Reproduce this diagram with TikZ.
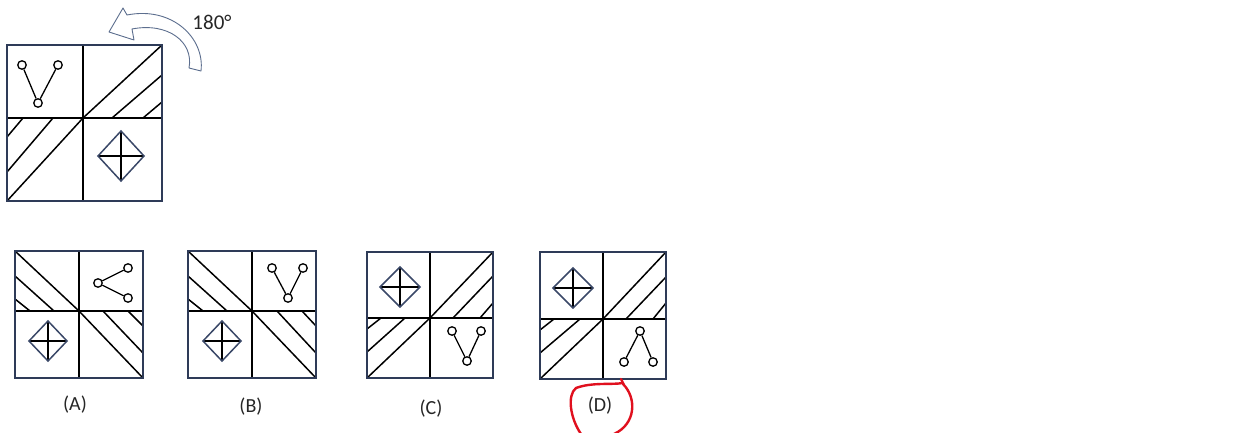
\documentclass[tikz,border=0pt]{standalone}
\usepackage{fontspec}
\setmainfont{Carlito}
\definecolor{framec}{HTML}{2E3B58}
\definecolor{diamc}{HTML}{3A4868}
\definecolor{arrc}{HTML}{5C6E8E}
\definecolor{redc}{HTML}{E0101E}
\tikzset{
  frame/.style={draw=framec, line width=1.5pt},
  div/.style={draw=black, line width=1.5pt},
  hatch/.style={draw=black, line width=1.5pt},
  dot/.style={circle, draw=black, line width=1.3pt, inner sep=0pt, minimum size=8.5pt, fill=white},
  link/.style={draw=black, line width=1.3pt},
  diam/.style={draw=diamc, line width=1.5pt, line join=miter},
  cross/.style={draw=black, line width=1.3pt},
  lab/.style={font=\fontsize{20}{22}\selectfont, text=black!85, inner sep=0pt}
}
\newcommand{\mydiamond}[4]{% cx cy hw hh
  \draw[cross] (#1-#3,#2) -- (#1+#3,#2);
  \draw[cross] (#1,#2-#4) -- (#1,#2+#4);
  \draw[diam] (#1-#3,#2) -- (#1,#2-#4) -- (#1+#3,#2) -- (#1,#2+#4) -- cycle;
}
\begin{document}
\begin{tikzpicture}[x=1pt,y=-1pt]
\useasboundingbox (0,0) rectangle (1245,433);

% ---------- main figure ----------
\draw[hatch] (83,118) -- (162,45);
\draw[hatch] (112,118) -- (162,75);
\draw[hatch] (143,118) -- (162,102);
\draw[hatch] (7,201) -- (83,118);
\draw[hatch] (7,172) -- (53,118);
\draw[hatch] (7,137) -- (23,118);
\draw[div] (83,45) -- (83,201);
\draw[div] (7,118) -- (162,118);
\draw[frame] (7,45) rectangle (162,201);
\mydiamond{121}{156}{23}{25}
\node[dot] (m1) at (22,65) {};
\node[dot] (m2) at (58,65) {};
\node[dot] (m3) at (38,103) {};
\draw[link] (m1) -- (m3) -- (m2);

% rotation arrow
\draw[draw=arrc, line width=0.9pt, fill=white, line join=round]
  (201,71) .. controls (205,38) and (172,6) .. (127,15)
  -- (123,8) -- (109,32) -- (134,40) -- (132,29)
  .. controls (168,22) and (194,42) .. (189,68) -- cycle;
\node[font=\fontsize{21}{23}\selectfont, text=black!85, inner sep=0pt] (rot) at (212,22) {180°};

% ---------- option A ----------
\draw[hatch] (15,251) -- (79,311);
\draw[hatch] (15,276) -- (54,311);
\draw[hatch] (15,299) -- (30,311);
\draw[hatch] (79,311) -- (143,378);
\draw[hatch] (103,311) -- (143,353);
\draw[hatch] (128,311) -- (143,326);
\draw[div] (79,251) -- (79,378);
\draw[div] (15,311) -- (143,311);
\draw[frame] (15,251) rectangle (143,378);
\mydiamond{48}{341}{19}{20}
\node[dot] (a1) at (98,283) {};
\node[dot] (a2) at (128,268) {};
\node[dot] (a3) at (128,298) {};
\draw[link] (a2) -- (a1) -- (a3);
\node[lab] (la) at (75,405) {(A)};

% ---------- option B ----------
\draw[hatch] (188,251) -- (252,311);
\draw[hatch] (188,276) -- (227,311);
\draw[hatch] (188,299) -- (203,311);
\draw[hatch] (252,311) -- (316,378);
\draw[hatch] (277,311) -- (316,353);
\draw[hatch] (302,311) -- (316,326);
\draw[div] (252,251) -- (252,378);
\draw[div] (188,311) -- (316,311);
\draw[frame] (188,251) rectangle (316,378);
\mydiamond{222}{341}{19}{20}
\node[dot] (b1) at (272,268) {};
\node[dot] (b2) at (303,268) {};
\node[dot] (b3) at (288,298) {};
\draw[link] (b1) -- (b3) -- (b2);
\node[lab] (lb) at (251,407) {(B)};

% ---------- option C ----------
\draw[hatch] (430,318) -- (493,252);
\draw[hatch] (453,318) -- (493,276);
\draw[hatch] (480,318) -- (493,303);
\draw[hatch] (367,378) -- (430,318);
\draw[hatch] (367,352) -- (405,318);
\draw[hatch] (367,329) -- (381,318);
\draw[div] (430,252) -- (430,378);
\draw[div] (367,318) -- (493,318);
\draw[frame] (367,252) rectangle (493,378);
\mydiamond{400}{287}{20}{20}
\node[dot] (c1) at (452,331) {};
\node[dot] (c2) at (481,331) {};
\node[dot] (c3) at (467,361) {};
\draw[link] (c1) -- (c3) -- (c2);
\node[lab] (lc) at (431,409) {(C)};

% ---------- option D ----------
\draw[hatch] (603,319) -- (666,252);
\draw[hatch] (626,319) -- (666,277);
\draw[hatch] (653,319) -- (666,303);
\draw[hatch] (540,379) -- (603,319);
\draw[hatch] (540,353) -- (580,319);
\draw[hatch] (540,330) -- (554,319);
\draw[div] (603,252) -- (603,379);
\draw[div] (540,319) -- (666,319);
\draw[frame] (540,252) rectangle (666,379);
\mydiamond{573}{288}{20}{20}
\node[dot] (d1) at (640,331) {};
\node[dot] (d2) at (624,362) {};
\node[dot] (d3) at (653,362) {};
\draw[link] (d2) -- (d1) -- (d3);
\node[lab] (ld) at (600,406) {(D)};

% red answer mark
\draw[redc, line width=2.4pt, line cap=round]
  (581,434) .. controls (570,418) and (567,395) .. (576,388)
  .. controls (592,382) and (612,385) .. (623,383) -- (621,379);
\draw[redc, line width=2.4pt, line cap=round]
  (623,384) .. controls (637,398) and (636,424) .. (614,434);
\end{tikzpicture}
\end{document}
